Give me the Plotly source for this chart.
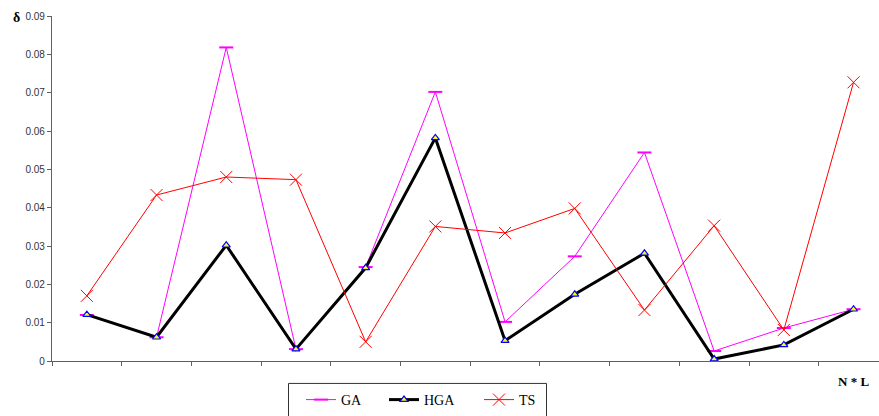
import plotly.graph_objects as go

categories = list(range(12))
ga = [0.0120, 0.0062, 0.0818, 0.0031, 0.0245, 0.0702, 0.0102, 0.0273, 0.0544, 0.0026, 0.0086, 0.0135]
hga = [0.0121, 0.0062, 0.0302, 0.0031, 0.0243, 0.0582, 0.0053, 0.0174, 0.0281, 0.0005, 0.0042, 0.0135]
ts = [0.0170, 0.0433, 0.0480, 0.0473, 0.0050, 0.0351, 0.0334, 0.0398, 0.0133, 0.0353, 0.0081, 0.0727]
y_ticks = [0, 0.01, 0.02, 0.03, 0.04, 0.05, 0.06, 0.07, 0.08, 0.09]
y_labels = ["0", "0.01", "0.02", "0.03", "0.04", "0.05", "0.06", "0.07", "0.08", "0.09"]

W, H = 879, 416
ml, mt, mb, mr = 52, 16, 54, 0
pw, ph = W - ml - mr, H - mt - mb
cat_w = 69.7
x_end = -0.5 + pw / cat_w


def px_x(px):
    return (px - ml) / pw


def px_y(py):
    return (H - mb - py) / ph


fig = go.Figure()
fig.add_trace(go.Scatter(
    x=categories, y=ga, name="GA", mode="lines+markers", legend="legend", showlegend=True,
    line=dict(color="#FF00FF", width=1),
    marker=dict(symbol="line-ew", size=10, line=dict(color="#FF00FF", width=2)),
))
fig.add_trace(go.Scatter(
    x=categories, y=hga, name="HGA", mode="lines+markers", legend="legend2", showlegend=True,
    line=dict(color="#000000", width=3),
    marker=dict(symbol="triangle-up", size=7, color="#FFFF00", line=dict(color="#0000FF", width=1.2)),
))
fig.add_trace(go.Scatter(
    x=categories, y=ts, name="TS", mode="lines+markers", legend="legend3", showlegend=True,
    line=dict(color="#FF0000", width=1),
    marker=dict(symbol="x-thin", size=12, color="#FF0000", line=dict(color="#FF0000", width=1)),
))

axis_col = "#606060"
leg_font = dict(family="Liberation Serif, Times New Roman", size=14, color="#000000")


def leg(xpx):
    return dict(orientation="h", x=px_x(xpx), xanchor="left", y=px_y(385), yanchor="top",
                borderwidth=0, bgcolor="rgba(0,0,0,0)", font=leg_font, visible=True)


fig.update_layout(
    width=W, height=H,
    showlegend=True,
    margin=dict(l=ml, r=mr, t=mt, b=mb),
    plot_bgcolor="white", paper_bgcolor="white",
    font=dict(family="Liberation Sans, Arial", size=10, color="#333333"),
    xaxis=dict(
        range=[-0.5, x_end], showgrid=False, zeroline=False,
        showline=True, linecolor=axis_col, linewidth=1.2,
        tickmode="array", tickvals=[k - 0.5 for k in range(12)], ticktext=[""] * 12,
        ticks="outside", ticklen=4, tickcolor=axis_col, tickwidth=1,
    ),
    yaxis=dict(
        range=[0, 0.09], showgrid=False, zeroline=False,
        showline=True, linecolor=axis_col, linewidth=1.2,
        tickmode="array", tickvals=y_ticks, ticktext=y_labels,
        ticks="outside", ticklen=4, tickcolor=axis_col, tickwidth=1,
        tickfont=dict(size=10, color="#333333"),
    ),
    legend=leg(301),
    legend2=leg(384),
    legend3=leg(479),
    shapes=[
        dict(type="rect", xref="paper", yref="paper",
             x0=px_x(288.5), x1=px_x(546.5), y0=px_y(384.5), y1=px_y(430),
             line=dict(color="#333333", width=1), fillcolor="rgba(0,0,0,0)", layer="below"),
    ],
    annotations=[
        dict(text="<b>δ</b>", xref="paper", yref="paper", x=px_x(11), y=px_y(18),
             xanchor="left", yanchor="middle", showarrow=False,
             font=dict(family="Liberation Serif, Times New Roman", size=14, color="#000000")),
        dict(text="<b>N * L</b>", xref="paper", yref="paper", x=px_x(853),
             y=px_y(383), xanchor="center", yanchor="middle", showarrow=False,
             font=dict(family="Liberation Serif, Times New Roman", size=13, color="#000000")),
    ],
)

fig.write_html("out.html", config={"displayModeBar": False},
               post_script="document.body.style.margin='0';document.body.style.padding='0';")
